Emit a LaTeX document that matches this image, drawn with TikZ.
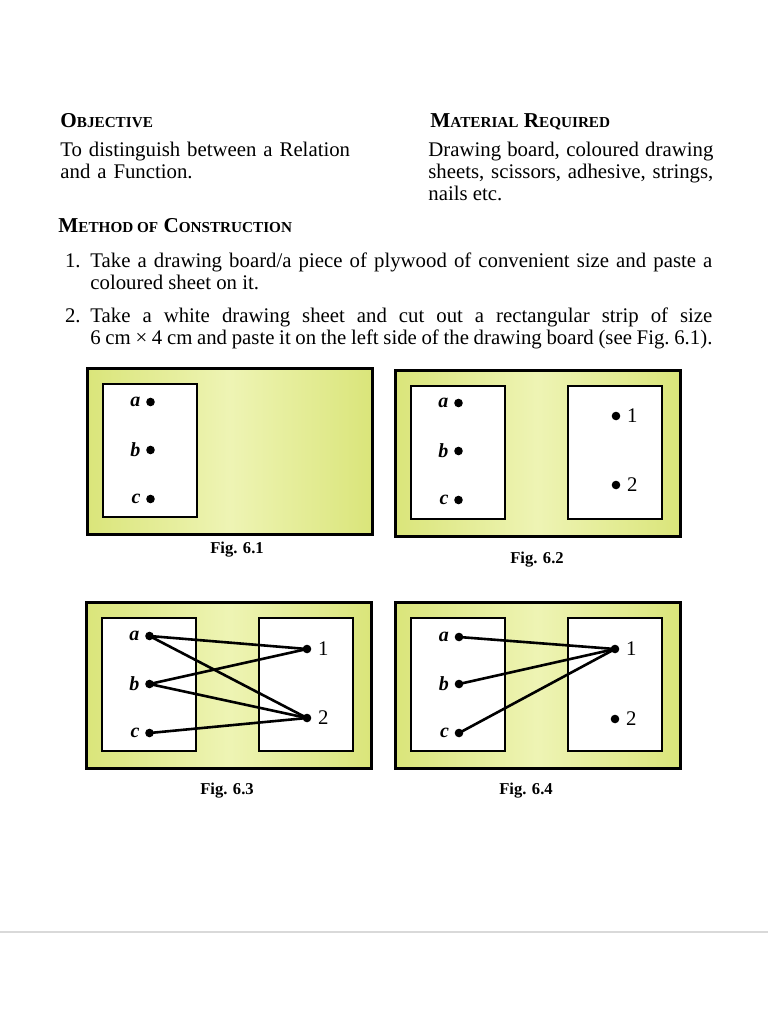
\documentclass[tikz,border=0pt]{standalone}
\usepackage{fontspec}
\setmainfont{Liberation Serif}
\usetikzlibrary{positioning}

\newcommand*{\sch}[1]{{\fontsize{7.6}{9}\selectfont #1}}
\newcommand*{\boardw}{285}
\newcommand*{\boardh}{166}

\definecolor{boardedge}{RGB}{218,229,122}
\definecolor{boardmid}{RGB}{238,244,180}

\begin{document}
\begin{tikzpicture}
[
	x=0.5pt, y=-0.5pt,
	every node/.style={font=\fontsize{10.4}{11.2}\selectfont},
	heading/.style={anchor=base west, inner sep=0pt, font=\fontsize{10.6}{12}\selectfont\bfseries},
	para/.style={anchor=base west, inner sep=0pt, align=justify, text width=#1},
	board/.style={draw, line width=1.5pt, left color=boardedge, right color=boardedge, middle color=boardmid},
	sheet/.style={draw, line width=1.3pt, fill=white},
	pin/.style={circle, fill, inner sep=0pt, minimum size=4.3pt},
	string/.style={line width=1.3pt},
	setlbl/.style={inner sep=0pt, font=\fontsize{10}{11}\selectfont\bfseries\itshape},
	imglbl/.style={inner sep=0pt, font=\fontsize{10.4}{11}\selectfont},
	caption/.style={anchor=base, inner sep=0pt, font=\fontsize{8.3}{10}\selectfont\bfseries}
]
	\useasboundingbox (0,0) rectangle (768,1024);

	% headings and text
	\node[heading] (objhead) at (60,127) {O\sch{BJECTIVE}};
	\node[heading] (mathead) at (430,127) {M\sch{ATERIAL} R\sch{EQUIRED}};
	\node[para=150pt, align=left] (objtext) at (60,156) {To distinguish between a Relation\\and a Function.};
	\node[para=142.5pt] (mattext) at (428,156) {Drawing board, coloured drawing\linebreak sheets, scissors, adhesive, strings,\linebreak nails etc.};
	\node[heading] (methead) at (58,232) {M\sch{ETHOD OF} C\sch{ONSTRUCTION}};

	\node[anchor=base east, inner sep=0pt] (num1) at (81,267) {1.};
	\node[para=311pt] (step1) at (90,267) {Take a drawing board/a piece of plywood of convenient size and paste a\linebreak coloured sheet on it.};
	\node[anchor=base east, inner sep=0pt] (num2) at (81,322) {2.};
	\node[para=311pt] (step2) at (90,322) {Take a white drawing sheet and cut out a rectangular strip of size\linebreak 6 cm × 4 cm and paste it on the left side of the drawing board (see Fig.~6.1).};

	% fig 6.1
	\begin{scope}[shift={(87,368)}]
		\draw[board] (0,0) rectangle (\boardw,\boardh);
		\draw[sheet] (16,16) rectangle ++(94,133);
		\foreach \n/\y in {a/34,b/82,c/131} {
			\node[pin] (\n-1) at (63.5,\y) {};
			\node[setlbl, left=2.5pt of \n-1] (l\n-1) {\n};
		}
		\node[caption] (cap1) at (150,185) {Fig. 6.1};
	\end{scope}

	% fig 6.2
	\begin{scope}[shift={(395,370)}]
		\draw[board] (0,0) rectangle (\boardw,\boardh);
		\draw[sheet] (16,16) rectangle ++(94,133);
		\draw[sheet] (173,16) rectangle ++(94,133);
		\foreach \n/\y in {a/33,b/81,c/130} {
			\node[pin] (\n-2) at (63.5,\y) {};
			\node[setlbl, left=2.5pt of \n-2] (l\n-2) {\n};
		}
		\foreach \n/\w/\y in {1/one/46,2/two/115} {
			\node[pin] (\w-2) at (221,\y) {};
			\node[imglbl, right=3pt of \w-2] (l\w-2) {\n};
		}
		\node[caption] (cap2) at (142,193) {Fig. 6.2};
	\end{scope}

	% fig 6.3
	\begin{scope}[shift={(86,602)}]
		\draw[board] (0,0) rectangle (\boardw,\boardh);
		\draw[sheet] (16,16) rectangle ++(94,133);
		\draw[sheet] (173,16) rectangle ++(94,133);
		\foreach \n/\y in {a/34,b/82,c/131} {
			\node[pin] (\n-3) at (63.5,\y) {};
			\node[setlbl, left=2.5pt of \n-3] (l\n-3) {\n};
		}
		\foreach \n/\w/\y in {1/one/47,2/two/116} {
			\node[pin] (\w-3) at (221,\y) {};
			\node[imglbl, right=3pt of \w-3] (l\w-3) {\n};
		}
		\foreach \s/\t in {a/one,a/two,b/one,b/two,c/two}
			\draw[string] (\s-3.center) -- (\t-3.center);
		\node[caption] (cap3) at (141,192) {Fig. 6.3};
	\end{scope}

	% fig 6.4
	\begin{scope}[shift={(395,602)}]
		\draw[board] (0,0) rectangle (\boardw,\boardh);
		\draw[sheet] (16,16) rectangle ++(94,133);
		\draw[sheet] (173,16) rectangle ++(94,133);
		\foreach \n/\y in {a/35,b/82,c/131} {
			\node[pin] (\n-4) at (64,\y) {};
			\node[setlbl, left=2.5pt of \n-4] (l\n-4) {\n};
		}
		\foreach \n/\w/\y in {1/one/47,2/two/117} {
			\node[pin] (\w-4) at (220,\y) {};
			\node[imglbl, right=3pt of \w-4] (l\w-4) {\n};
		}
		\foreach \s in {a,b,c}
			\draw[string] (\s-4.center) -- (one-4.center);
		\node[caption] (cap4) at (131,192) {Fig. 6.4};
	\end{scope}

	% page rule
	\draw[gray!30, line width=1pt] (0,932) -- (768,932);

\end{tikzpicture}
\end{document}
